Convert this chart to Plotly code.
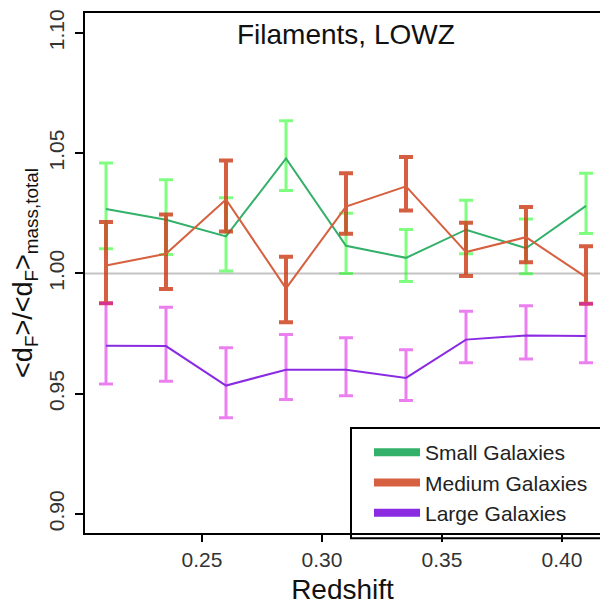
import numpy as np
import plotly.graph_objects as go

# ---------------- data ----------------
redshift = [0.21, 0.235, 0.26, 0.285, 0.31, 0.335, 0.36, 0.385, 0.41]

small = [1.0268, 1.0223, 1.0154, 1.0478, 1.0115, 1.0065, 1.0182, 1.0105, 1.0281]
small_upper = [1.0459, 1.0390, 1.0315, 1.0635, 1.0250, 1.0183, 1.0304, 1.0227, 1.0417]
small_lower = [1.0103, 1.0079, 1.0010, 1.0345, 1.0000, 0.9967, 1.0082, 0.9999, 1.0166]

medium = [1.0033, 1.0082, 1.0308, 0.9938, 1.0278, 1.0362, 1.0089, 1.0151, 0.9985]
medium_upper = [1.0214, 1.0245, 1.0470, 1.0070, 1.0417, 1.0484, 1.0211, 1.0276, 1.0113]
medium_lower = [0.9876, 0.9935, 1.0175, 0.9797, 1.0165, 1.0262, 0.9990, 1.0047, 0.9874]

large = [0.9700, 0.9698, 0.9534, 0.9600, 0.9600, 0.9566, 0.9725, 0.9742, 0.9740]
large_upper = [0.9876, 0.9860, 0.9691, 0.9746, 0.9733, 0.9683, 0.9843, 0.9866, 0.9874]
large_lower = [0.9541, 0.9552, 0.9400, 0.9476, 0.9492, 0.9472, 0.9629, 0.9644, 0.9629]

series_names = ["Small Galaxies", "Medium Galaxies", "Large Galaxies"]
x_ticks = [0.25, 0.30, 0.35, 0.40]
x_tick_labels = ["0.25", "0.30", "0.35", "0.40"]
y_ticks = [0.90, 0.95, 1.00, 1.05, 1.10]
y_tick_labels = ["0.90", "0.95", "1.00", "1.05", "1.10"]
reference_level = 1.0

# ---------------- styling ----------------
FONT = "Liberation Sans, Arial, sans-serif"
line_colors = ["#33b06a", "#d6603f", "#8a2be2"]
err_colors = ["rgba(0,255,0,0.5)", "rgba(205,60,25,0.82)", "rgba(215,0,225,0.5)"]
err_thick = [3, 4, 3]

L, R, T, B = 85, 600, 13, 533   # plot area in pixels
PW, PH = R - L, B - T

def px_x(p):
    return (p - L) / PW

def px_y(p):
    return (B - p) / PH

fig = go.Figure()

series = [
    (small, small_upper, small_lower),
    (medium, medium_upper, medium_lower),
    (large, large_upper, large_lower),
]

for i, (vals, up, lo) in enumerate(series):
    v = np.array(vals)
    fig.add_trace(go.Scatter(
        x=redshift, y=vals, mode="lines",
        line=dict(color=line_colors[i], width=2),
        error_y=dict(type="data", symmetric=False,
                     array=(np.array(up) - v).tolist(),
                     arrayminus=(v - np.array(lo)).tolist(),
                     color=err_colors[i], thickness=err_thick[i], width=7),
        showlegend=False, name=series_names[i],
    ))

# legend entries (thick lines)
for i, name in enumerate(series_names):
    fig.add_trace(go.Scatter(
        x=[None], y=[None], mode="lines",
        line=dict(color=line_colors[i], width=8),
        name=name, showlegend=True,
    ))

fig.add_hline(y=reference_level, line=dict(color="#c4c4c4", width=2), layer="below")

# legend frame
fig.add_shape(type="rect", xref="paper", yref="paper",
              x0=px_x(351), x1=1.05, y0=-0.01, y1=px_y(428),
              line=dict(color="black", width=2), fillcolor="rgba(0,0,0,0)", layer="above")

fig.add_annotation(text="Filaments, LOWZ", xref="paper", yref="paper",
                   x=px_x(346), y=px_y(35), showarrow=False,
                   xanchor="center", yanchor="middle",
                   font=dict(family=FONT, size=28, color="#111"))

fig.update_layout(
    width=600, height=605,
    margin=dict(l=L, r=600 - R, t=T, b=605 - B, autoexpand=False),
    paper_bgcolor="white", plot_bgcolor="white",
    font=dict(family=FONT, color="#222"),
    legend=dict(x=px_x(369), y=px_y(432), xanchor="left", yanchor="top",
                bgcolor="rgba(0,0,0,0)", borderwidth=0,
                font=dict(family=FONT, size=21, color="#222"),
                itemwidth=46, tracegroupgap=0),
    xaxis=dict(range=[0.20125, 0.41583], tickvals=x_ticks, ticktext=x_tick_labels,
               automargin=False,
               showgrid=False, zeroline=False, showline=True, mirror=True,
               linecolor="black", linewidth=2, ticks="outside", ticklen=7,
               tickwidth=2, tickcolor="black",
               tickfont=dict(family=FONT, size=21, color="#333"),
               title=dict(text="Redshift", font=dict(family=FONT, size=28, color="#111"),
                          standoff=10)),
    yaxis=dict(range=[0.8921, 1.1083], tickvals=y_ticks, ticktext=y_tick_labels,
               automargin=False,
               showgrid=False, zeroline=False, showline=True, mirror=False,
               linecolor="black", linewidth=2, ticks="outside", ticklen=8,
               tickwidth=2, tickcolor="black", tickangle=-90, ticklabelstandoff=3,
               tickfont=dict(family=FONT, size=21, color="#333"),
               title=dict(text="&lt;d<sub>F</sub>&gt;/&lt;d<sub>F</sub>&gt;<sub>mass,total</sub>",
                          font=dict(family=FONT, size=27, color="#111"), standoff=4)),
)

fig.write_html("out.html", config={"displayModeBar": False},
               post_script="document.body.style.margin='0';document.body.style.overflow='hidden';")
